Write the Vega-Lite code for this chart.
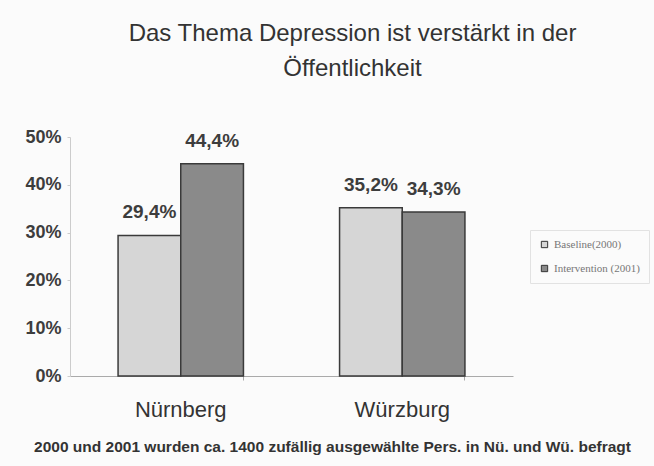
{
  "$schema": "https://vega.github.io/schema/vega-lite/v6.json",
  "autosize": {"type": "none"},
  "width": 443,
  "height": 239,
  "padding": {"left": 70, "top": 137, "right": 141, "bottom": 90},
  "background": "#fbfbfb",
  "title": {
    "text": ["Das Thema Depression ist verstärkt in der", "Öffentlichkeit"],
    "anchor": "middle",
    "dx": 61,
    "font": "Liberation Sans",
    "fontSize": 24,
    "fontWeight": "normal",
    "color": "#333333",
    "lineHeight": 35,
    "offset": 47
  },
  "config": {
    "locale": {"number": {"decimal": ",", "thousands": ".", "grouping": [3], "currency": ["", " €"]}},
    "view": {"stroke": null},
    "font": "Liberation Sans"
  },
  "data": {
    "values": [
      {"stadt": "Nürnberg", "serie": "Baseline(2000)", "wert": 0.294},
      {"stadt": "Nürnberg", "serie": "Intervention (2001)", "wert": 0.444},
      {"stadt": "Würzburg", "serie": "Baseline(2000)", "wert": 0.352},
      {"stadt": "Würzburg", "serie": "Intervention (2001)", "wert": 0.343}
    ]
  },
  "encoding": {
    "x": {
      "field": "stadt",
      "type": "nominal",
      "scale": {"paddingInner": 0.434, "paddingOuter": 0.217},
      "axis": {
        "title": "2000 und 2001 wurden ca. 1400 zufällig ausgewählte Pers. in Nü. und Wü. befragt",
        "titleFont": "Liberation Sans",
        "titleFontSize": 15.5,
        "titleFontWeight": "bold",
        "titleColor": "#333",
        "titleX": 262,
        "titlePadding": 19,
        "labelAngle": 0,
        "labelFont": "Liberation Sans",
        "labelFontSize": 22,
        "labelColor": "#333",
        "labelPadding": 19,
        "domainColor": "#aaa",
        "tickColor": "#aaa",
        "bandPosition": 1,
        "tickSize": 4
      }
    },
    "xOffset": {"field": "serie", "type": "nominal"},
    "y": {
      "field": "wert",
      "type": "quantitative",
      "scale": {"domain": [0, 0.5]},
      "axis": {
        "title": null,
        "format": ".0%",
        "values": [0, 0.1, 0.2, 0.3, 0.4, 0.5],
        "labelOverlap": false,
        "grid": false,
        "labelFont": "Liberation Sans",
        "labelFontSize": 18,
        "labelFontWeight": "bold",
        "labelColor": "#3d3d3d",
        "labelPadding": 6,
        "domainColor": "#ccc",
        "tickColor": "#ccc",
        "tickSize": 3
      }
    }
  },
  "layer": [
    {
      "mark": {"type": "bar", "stroke": "#3a3a3a", "strokeWidth": 1.5},
      "encoding": {
        "color": {
          "field": "serie",
          "type": "nominal",
          "scale": {"range": ["#d6d6d6", "#8a8a8a"]},
          "legend": {
            "title": null,
            "orient": "none",
            "legendX": 460,
            "legendY": 93,
            "symbolType": "square",
            "symbolSize": 40,
            "symbolStrokeColor": "#333",
            "symbolStrokeWidth": 1,
            "labelFont": "Liberation Serif",
            "labelFontSize": 11,
            "labelColor": "#777",
            "rowPadding": 12,
            "padding": 9,
            "strokeColor": "#e2e2e2"
          }
        }
      }
    },
    {
      "mark": {"type": "text", "baseline": "bottom", "dy": -13, "font": "Liberation Sans", "fontSize": 19, "fontWeight": "bold", "color": "#3d3d3d"},
      "encoding": {
        "text": {"field": "wert", "type": "quantitative", "format": ".1%"}
      }
    }
  ]
}
